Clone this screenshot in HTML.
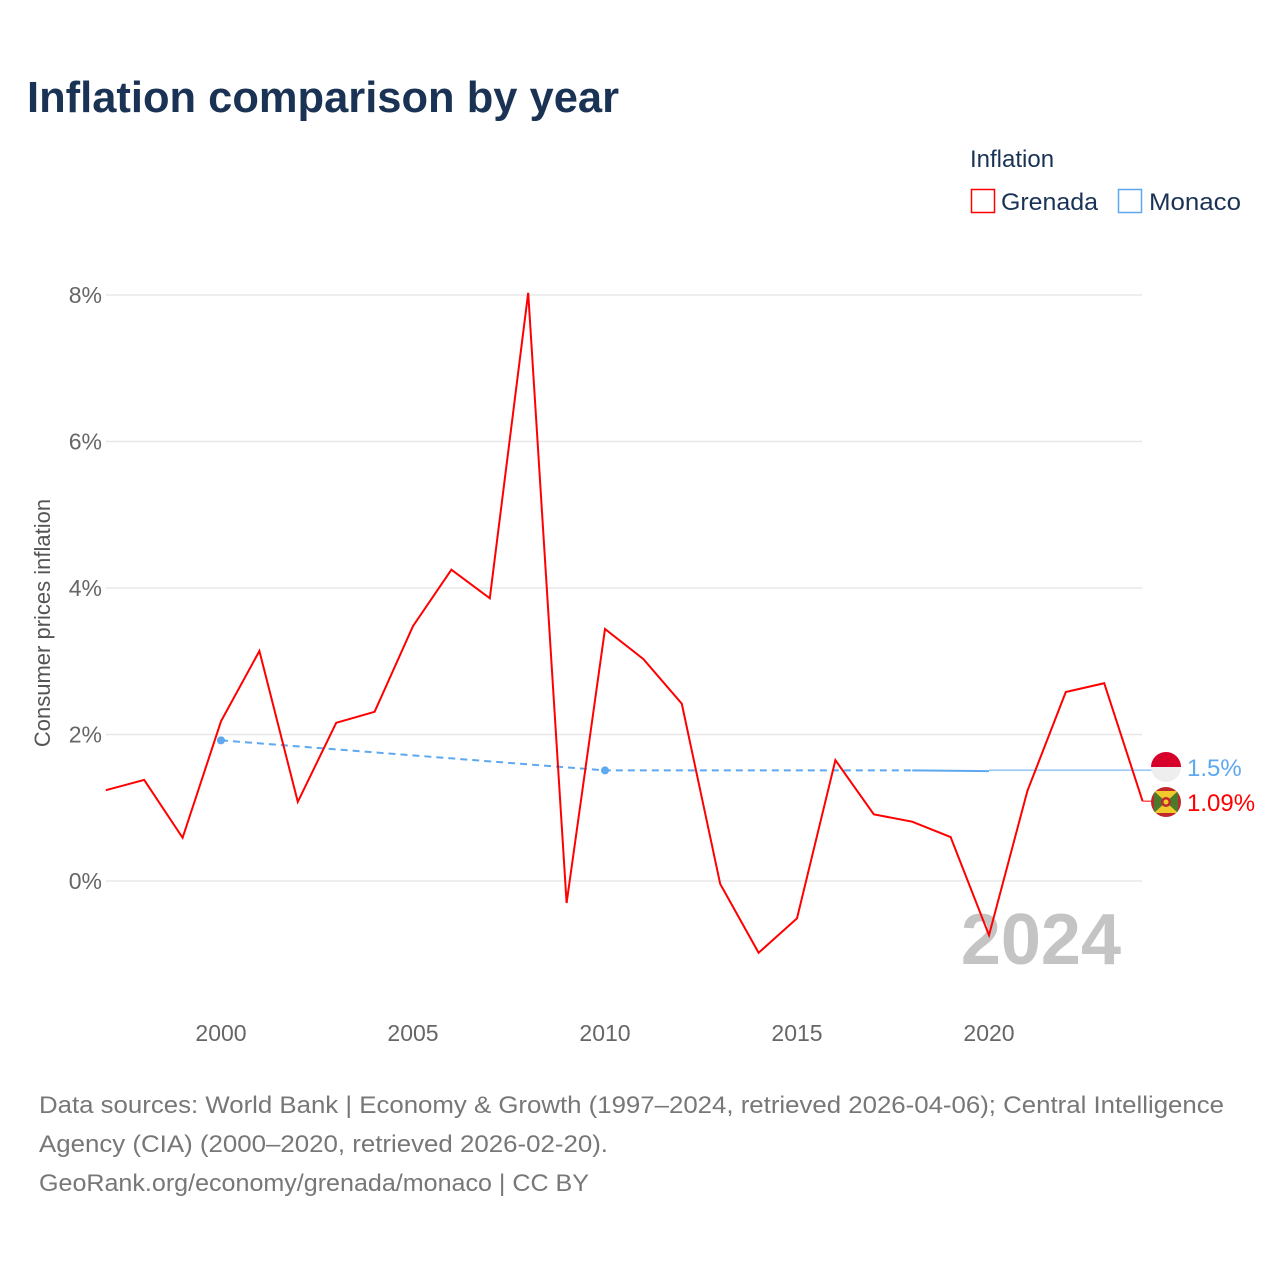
<!DOCTYPE html>
<html><head><meta charset="utf-8"><style>
html,body{margin:0;padding:0;background:#fff;}
svg{display:block;font-family:"Liberation Sans",sans-serif;}
</style></head><body>
<svg id="chart" width="1280" height="1280" viewBox="0 0 1280 1280">
<defs>
<clipPath id="mc"><circle cx="1166" cy="767" r="15"/></clipPath>
<clipPath id="gc"><circle cx="1166" cy="802" r="15"/></clipPath>
</defs>
<text x="27" y="112" font-size="44" font-weight="bold" fill="#1a3355" textLength="592" lengthAdjust="spacingAndGlyphs">Inflation comparison by year</text>
<g>
<text x="970" y="167" font-size="24" fill="#1a3355">Inflation</text>
<g><rect x="971.5" y="189.5" width="23" height="23" fill="none" stroke="#ff0000" stroke-width="1.5"/><text x="1001" y="210" font-size="24" fill="#1a3355" textLength="97" lengthAdjust="spacingAndGlyphs">Grenada</text></g>
<g><rect x="1118.5" y="189.5" width="23" height="23" fill="none" stroke="#5ea8f0" stroke-width="1.5"/><text x="1149" y="210" font-size="24" fill="#1a3355" textLength="92" lengthAdjust="spacingAndGlyphs">Monaco</text></g>
</g>
<g id="grid"></g>
<g id="yticks"></g>
<g id="xticks"></g>
<text transform="translate(50,623) rotate(-90)" text-anchor="middle" font-size="22" fill="#555">Consumer prices inflation</text>
<text x="1121" y="964" text-anchor="end" font-size="72" font-weight="bold" fill="#c4c4c4">2024</text>
<g id="series"></g>
<g font-size="24" fill="#777">
<text x="39" y="1113" textLength="1185" lengthAdjust="spacingAndGlyphs">Data sources: World Bank | Economy &amp; Growth (1997–2024, retrieved 2026-04-06); Central Intelligence</text>
<text x="39" y="1152" textLength="569" lengthAdjust="spacingAndGlyphs">Agency (CIA) (2000–2020, retrieved 2026-02-20).</text>
<text x="39" y="1191" textLength="550" lengthAdjust="spacingAndGlyphs">GeoRank.org/economy/grenada/monaco | CC BY</text>
</g>
</svg>
<script>
const grenadaYears=[1997,1998,1999,2000,2001,2002,2003,2004,2005,2006,2007,2008,2009,2010,2011,2012,2013,2014,2015,2016,2017,2018,2019,2020,2021,2022,2023,2024];
const grenadaValues=[1.24,1.38,0.59,2.18,3.14,1.08,2.16,2.31,3.48,4.25,3.86,8.03,-0.30,3.44,3.03,2.42,-0.04,-0.98,-0.51,1.65,0.91,0.81,0.60,-0.74,1.23,2.58,2.70,1.09];
const monacoYears=[2000,2010,2018,2020];
const monacoValues=[1.92,1.51,1.51,1.5];
const yTicks=[0,2,4,6,8];
const xTicks=[2000,2005,2010,2015,2020];
const NS="http://www.w3.org/2000/svg";
function xS(y){return 221+(y-2000)*38.4;}
function yS(v){return 881-v*73.25;}
function mk(tag,attrs,parent){const e=document.createElementNS(NS,tag);for(const k in attrs)e.setAttribute(k,attrs[k]);parent.appendChild(e);return e;}
const grid=document.getElementById('grid'),yt=document.getElementById('yticks'),xt=document.getElementById('xticks'),ser=document.getElementById('series');
yTicks.forEach(t=>{
 const l=mk('line',{x1:106,x2:1142,y1:yS(t),y2:yS(t),stroke:'#e8e8e8','stroke-width':1.5},grid);
 
 
 const tx=mk('text',{x:102,y:yS(t)+8,'text-anchor':'end','font-size':23,fill:'#666'},yt);
 tx.textContent=t+'%';
 
 
});
xTicks.forEach(t=>{
 const tx=mk('text',{x:xS(t),y:1041,'text-anchor':'middle','font-size':23,fill:'#666'},xt);
 tx.textContent=t;
 
 
});
const mPts=monacoYears.map((y,i)=>[xS(y),yS(monacoValues[i])]);
const mDash=mk('polyline',{points:mPts.slice(0,3).map(p=>p.join(',')).join(' '),fill:'none',stroke:'#5ea8f0','stroke-width':2,'stroke-dasharray':'7,5'},ser);


const mSolid=mk('polyline',{points:mPts.slice(2).map(p=>p.join(',')).join(' '),fill:'none',stroke:'#5ea8f0','stroke-width':2},ser);


const lastM=mPts[mPts.length-1];
const mConn=mk('line',{x1:lastM[0],y1:lastM[1]-1,x2:1166,y2:lastM[1]-1,stroke:'#5ea8f0','stroke-width':1},ser);


[0,1].forEach(i=>{
 const c=mk('circle',{cx:mPts[i][0],cy:mPts[i][1],r:4,fill:'#5ea8f0'},ser);
 
 
});
const gPts=grenadaYears.map((y,i)=>[xS(y),yS(grenadaValues[i])]);
const gl=mk('polyline',{points:gPts.map(p=>p.join(',')).join(' '),fill:'none',stroke:'#ff0000','stroke-width':2},ser);


const lastG=gPts[gPts.length-1];
const gConn=mk('line',{x1:lastG[0],y1:lastG[1],x2:1152,y2:lastG[1],stroke:'#ff0000','stroke-width':1},ser);


const my=767, gy=802;
const mf=mk('g',{'clip-path':'url(#mc)'},ser);


mk('rect',{x:1151,y:my-15,width:30,height:15,fill:'#d7002a'},mf);
mk('rect',{x:1151,y:my,width:30,height:15,fill:'#eeeeee'},mf);
const ml=mk('text',{x:1187,y:my+9,'font-size':24,fill:'#5ea8f0'},ser);
ml.textContent=monacoValues[monacoValues.length-1]+'%';


const gf=mk('g',{'clip-path':'url(#gc)'},ser);


mk('rect',{x:1151,y:gy-15,width:30,height:30,fill:'#c0272d'},gf);
mk('rect',{x:1154,y:gy-11,width:24,height:22,fill:'#4a7a2a'},gf);
mk('polygon',{points:`1154,${gy-11} 1178,${gy-11} 1166,${gy}`,fill:'#f2c92c'},gf);
mk('polygon',{points:`1154,${gy+11} 1178,${gy+11} 1166,${gy}`,fill:'#f2c92c'},gf);
mk('circle',{cx:1166,cy:gy,r:5,fill:'#c0272d'},gf);
mk('circle',{cx:1166,cy:gy,r:2.5,fill:'#f2c92c'},gf);
const gLab=mk('text',{x:1187,y:gy+9,'font-size':24,fill:'#ff0000'},ser);
gLab.textContent=grenadaValues[grenadaValues.length-1]+'%';


</script>
</body></html>
